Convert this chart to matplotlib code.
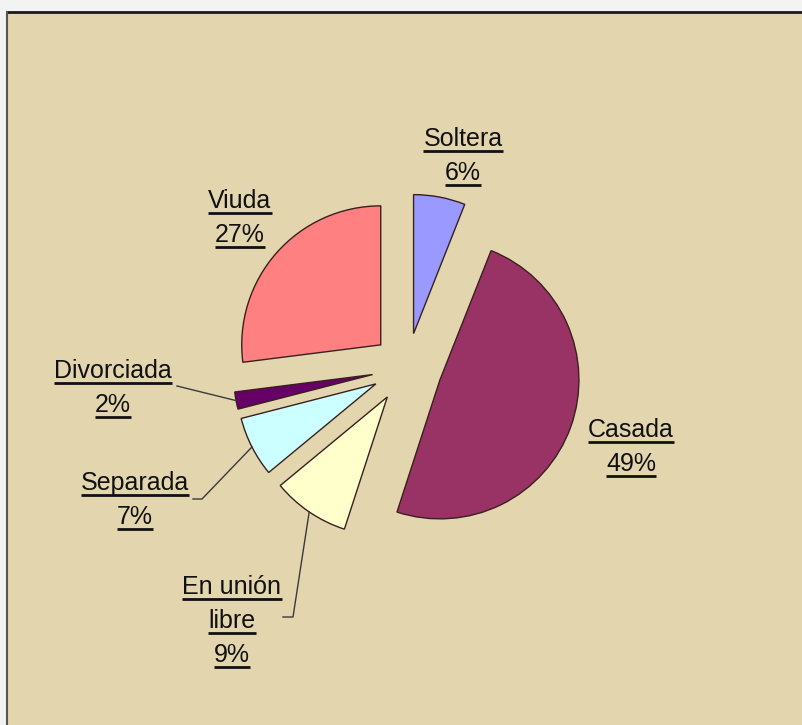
import numpy as np
import matplotlib
matplotlib.use('Agg')
import matplotlib.pyplot as plt
from matplotlib.patches import Rectangle

# --- DATA ---
categories = ['Soltera', 'Casada', 'En unión libre', 'Separada', 'Divorciada', 'Viuda']
label_lines = [['Soltera'], ['Casada'], ['En unión', 'libre'], ['Separada'], ['Divorciada'], ['Viuda']]
values = [6, 49, 9, 7, 2, 27]
colors = ['#9999FF', '#993366', '#FFFFCC', '#CCFFFF', '#660066', '#FF8080']

# --- LAYOUT (pixel coords, origin top-left) ---
W, H = 803, 725
BG = '#E3D5AE'
PIE_CENTER = (407, 368)
PIE_RADIUS = 139
EXPLODE = 35          # pie explode offset is in data units (pixels here)
FONT_SIZE = 18
LINE_STEP = 34

# label centre x and first baseline y
label_pos = {
    'Soltera': (463, 146),
    'Casada': (631, 437),
    'En unión libre': (232, 594),
    'Separada': (135, 490),
    'Divorciada': (113, 378),
    'Viuda': (240, 208),
}
# label-side points of leader lines
leader_start = {
    'Divorciada': [(177, 386)],
    'Separada': [(193, 499), (202, 499)],
    'En unión libre': [(283, 617), (293, 617)],
}


def fy(y):
    return H - y


plt.rcParams['font.family'] = ['Liberation Sans', 'DejaVu Sans']

fig = plt.figure(figsize=(W / 100, H / 100), dpi=100, facecolor='#f3f3f3')
ax = fig.add_axes([0, 0, 1, 1])

wedges, _ = ax.pie(values, colors=colors, startangle=90, counterclock=False,
                   explode=[EXPLODE] * len(values), radius=PIE_RADIUS,
                   center=(PIE_CENTER[0], fy(PIE_CENTER[1])),
                   wedgeprops=dict(edgecolor='#3a1f1f', linewidth=1.0))
for w in wedges:
    w.set_zorder(3)

ax.set_xlim(0, W)
ax.set_ylim(0, H)
ax.set_aspect('auto')
ax.axis('off')

# chart area background + border
ax.add_patch(Rectangle((7, 0), W - 7, fy(12), facecolor=BG, edgecolor='none', zorder=0))
ax.plot([7, W], [fy(12), fy(12)], color='#1a1a1a', lw=2.0, zorder=1, solid_capstyle='butt')
ax.plot([7, 7], [0, fy(12)], color='#555555', lw=1.5, zorder=1)

# labels
texts = []
for name, lines, v in zip(categories, label_lines, values):
    cx, by = label_pos[name]
    for i, line in enumerate(lines + [f'{v}%']):
        t = ax.text(cx, fy(by + i * LINE_STEP), line, ha='center', va='baseline',
                    fontsize=FONT_SIZE, color='#111111', zorder=5)
        texts.append((t, by + i * LINE_STEP))

fig.canvas.draw()
renderer = fig.canvas.get_renderer()
inv = ax.transData.inverted()
for t, by in texts:
    bb = t.get_window_extent(renderer)
    (x0, _), (x1, _) = inv.transform([(bb.x0, bb.y0), (bb.x1, bb.y1)])
    ax.plot([x0, x1], [fy(by + 5), fy(by + 5)], color='#111111', lw=2.0,
            solid_capstyle='butt', zorder=5)

# leader lines to the middle of each wedge arc
for name, pts in leader_start.items():
    w = wedges[categories.index(name)]
    mid = np.deg2rad((w.theta1 + w.theta2) / 2)
    ex = w.center[0] + w.r * np.cos(mid)
    ey = w.center[1] + w.r * np.sin(mid)
    xs = [p[0] for p in pts] + [ex]
    ys = [fy(p[1]) for p in pts] + [ey]
    ax.plot(xs, ys, color='#3a3a3a', lw=1.0, zorder=4)

fig.savefig('out.png', dpi=100, facecolor=fig.get_facecolor())
